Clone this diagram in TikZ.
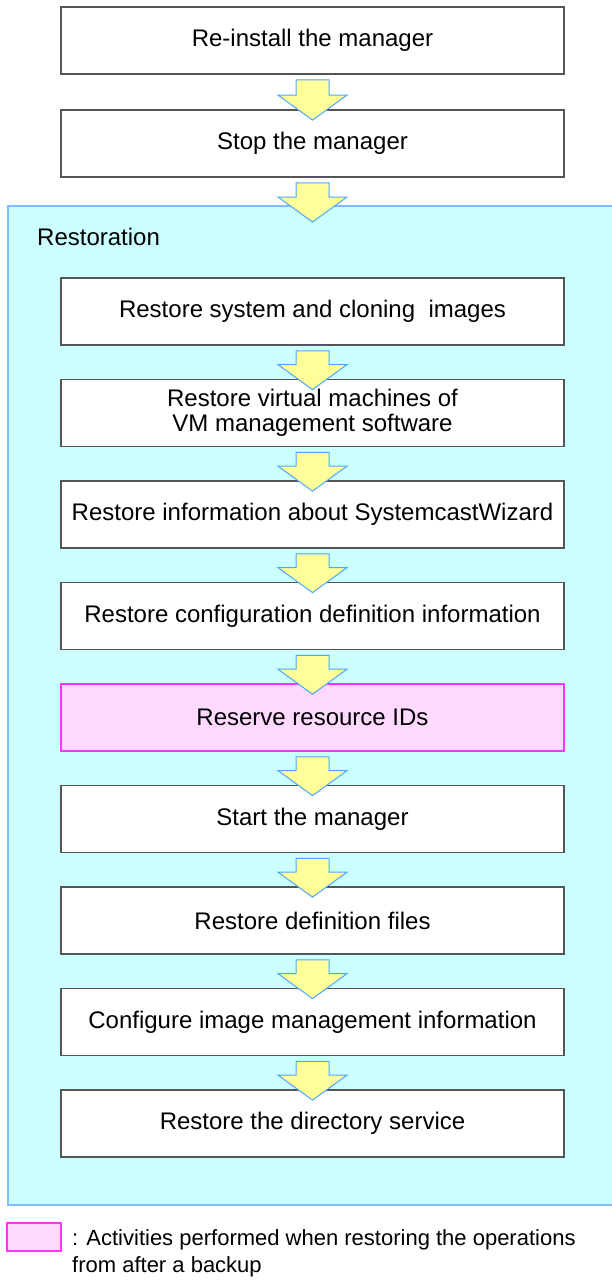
\documentclass[tikz,border=0pt]{standalone}
\usepackage{fontspec}
\setmainfont{Liberation Sans}
\usetikzlibrary{calc, positioning}
\definecolor{stepline}{RGB}{85,85,85}
\definecolor{arrowfill}{RGB}{255,255,153}
\definecolor{arrowline}{RGB}{77,166,255}
\definecolor{restfill}{RGB}{204,255,255}
\definecolor{restline}{RGB}{128,191,255}
\definecolor{pinkfill}{RGB}{255,217,255}
\definecolor{pinkline}{RGB}{255,51,255}
\tikzstyle{flowarrow} = [fill=arrowfill,draw=arrowline,line width=1pt,line join=miter]

% block arrow from the bottom of #2 down into the top of #3 (tip #1 pt below it)
\newcommand{\flowarrow}[3][11]{%
  \draw[flowarrow] let \p1=(#2.south), \p2=(#3.north) in
    (\x1-16.5pt,\y1-5pt) -- (\x1+16.5pt,\y1-5pt) -- (\x1+16.5pt,\y2-#1pt+25pt)
    -- (\x1+34.5pt,\y2-#1pt+25pt) -- (\x1,\y2-#1pt) -- (\x1-34.5pt,\y2-#1pt+25pt)
    -- (\x1-16.5pt,\y2-#1pt+25pt) -- cycle;}

\begin{document}
\begin{tikzpicture}[x=1pt,y=-1pt,every text node part/.style={align=center},
    stepbox/.style={draw=stepline,fill=white,line width=1.8pt,minimum width=503pt,
      minimum height=67pt,inner sep=0pt,font=\fontsize{24}{25}\selectfont},
    pinkbox/.style={stepbox,draw=pinkline,line width=1.6pt,fill=pinkfill}]

    \useasboundingbox (0,0) rectangle (611,1280);

    % --- before the restoration
    \node[stepbox] (reinstall) at (312.5,40.5) {Re-install the manager};
    \node[stepbox] (stop) at (312.5,143.5) {Stop the manager};
    \flowarrow{reinstall}{stop}

    % --- Restoration frame
    \node[draw=restline,fill=restfill,line width=2pt,minimum width=620pt,minimum height=999pt,
      inner sep=0pt,anchor=north west] (restore) at (7,205) {};
    \node[anchor=base west,inner sep=0pt,font=\fontsize{24}{25}\selectfont] (restlabel) at (37,245) {Restoration};
    \flowarrow[17]{stop}{restore}

    % --- steps
    \node[stepbox] (images) at (312.5,311.5) {Restore system and cloning\ \ images};
    \node[stepbox] (vms) at (312.5,413) {Restore virtual machines of \\ VM management software};
    \node[stepbox] (wizard) at (312.5,514.5) {Restore information about SystemcastWizard};
    \node[stepbox] (config) at (312.5,616) {Restore configuration definition information};
    \node[pinkbox] (ids) at (312.5,717.5) {Reserve resource IDs};
    \node[stepbox] (start) at (312.5,819) {Start the manager};
    \node[stepbox] (deffiles) at (312.5,920.5) {Restore definition files};
    \node[stepbox] (imgmgmt) at (312.5,1022) {Configure image management information};
    \node[stepbox] (dirsvc) at (312.5,1123.5) {Restore the directory service};

    \flowarrow{images}{vms}
    \flowarrow{vms}{wizard}
    \flowarrow{wizard}{config}
    \flowarrow{config}{ids}
    \flowarrow{ids}{start}
    \flowarrow{start}{deffiles}
    \flowarrow{deffiles}{imgmgmt}
    \flowarrow{imgmgmt}{dirsvc}

    % --- legend
    \node[draw=pinkline,fill=pinkfill,line width=1.6pt,minimum width=54pt,minimum height=28pt,inner sep=0pt] (legendbox) at (34,1237) {};
    \node[anchor=north west,inner sep=0pt,every text node part/.style={align=left},
      font=\fontsize{22}{27}\selectfont] (legendtext) at (72,1229)
      {: Activities performed when restoring the operations \\ from after a backup};

\end{tikzpicture}
\end{document}
